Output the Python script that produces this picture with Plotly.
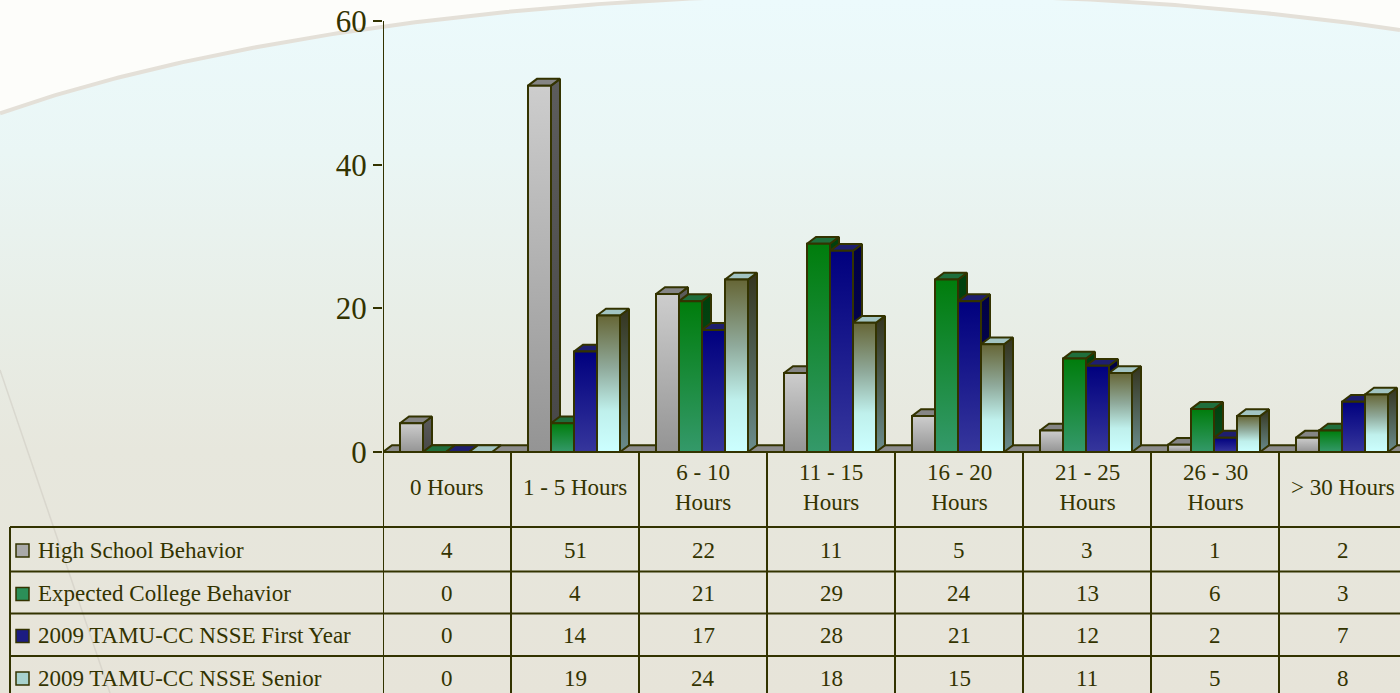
import numpy as np
import plotly.graph_objects as go

# ---------------------------------------------------------------- data
categories = ["0 Hours", "1 - 5 Hours", "6 - 10 Hours", "11 - 15 Hours",
              "16 - 20 Hours", "21 - 25 Hours", "26 - 30 Hours", "> 30 Hours"]
header_labels = ["0 Hours", "1 - 5 Hours", "6 - 10<br>Hours", "11 - 15<br>Hours",
                 "16 - 20<br>Hours", "21 - 25<br>Hours", "26 - 30<br>Hours", "> 30 Hours"]
series_names = ["High School Behavior", "Expected College Behavior",
                "2009 TAMU-CC NSSE First Year", "2009 TAMU-CC NSSE Senior"]
high_school = [4, 51, 22, 11, 5, 3, 1, 2]
expected_college = [0, 4, 21, 29, 24, 13, 6, 3]
nsse_first_year = [0, 14, 17, 28, 21, 12, 2, 7]
nsse_senior = [0, 19, 24, 18, 15, 11, 5, 8]
y_ticks = [0, 20, 40, 60]
series_values = [high_school, expected_college, nsse_first_year, nsse_senior]

# ---------------------------------------------------------------- styling
W, H = 1400, 693
FONT = "Liberation Serif, Times New Roman, serif"
INK = "#333300"
OUTLINE_W = 2

series_styles = [
    dict(front=[[0, "#949494"], [1, "#cdcdcd"]], top="#858585",
         side=[[0, "#474747"], [1, "#5c5c5c"]], swatch="#a9a9a9"),
    dict(front=[[0, "#34996a"], [1, "#007d0c"]], top="#1f6e3c",
         side=[[0, "#0d4d22"], [1, "#003f0c"]], swatch="#2b8f58"),
    dict(front=[[0, "#36369c"], [1, "#00007e"]], top="#1e1e6e",
         side=[[0, "#0a0a55"], [1, "#000045"]], swatch="#1c1c82"),
    dict(front=[[0, "#ccffff"], [0.3, "#bff0ec"], [0.62, "#8fa99a"], [1, "#666636"]],
         top="#a2c4c2", side=[[0, "#6a8c8c"], [1, "#34341e"]], swatch="#a8d2ce"),
]


def px_x(p):
    return p / W


def px_y(p):
    return 1 - p / H


# chart axes geometry (pixels)
AX_LEFT = 383
CAT_W = 128
Y0_PX, Y60_PX = 452, 21
UNIT = (Y0_PX - Y60_PX) / 60.0
PLOT_BOTTOM_PX, PLOT_TOP_PX = 462, 8

x_range = [-0.5, -0.5 + (W - AX_LEFT) / CAT_W]
y_range = [-(PLOT_BOTTOM_PX - Y0_PX) / UNIT, 60 + (Y60_PX - PLOT_TOP_PX) / UNIT]

BAR_W = 23 / CAT_W
GROUP_START = -47 / CAT_W
DX = 9 / CAT_W
DY = 6.8 / UNIT

fig = go.Figure()

# ---------------------------------------------------------------- background (full-page axes)
bx = np.linspace(0, W, 200)
arc_px = 314 - 320 * np.sqrt(np.clip(1 - ((bx - 880) / 1130) ** 2, 0, None))
arc_y = H - arc_px
poly_x = list(bx) + [W, 0]
poly_y = list(arc_y) + [-10, -10]
fig.add_trace(go.Scatter(
    x=poly_x, y=poly_y, mode="lines", fill="toself",
    line=dict(width=0),
    fillgradient=dict(type="vertical", start=0, stop=H,
                      colorscale=[[0, "#e7e4d9"], [0.35, "#e7e7dd"], [0.55, "#e8eee7"],
                                  [0.78, "#eaf6f5"], [1, "#ecfafc"]]),
    hoverinfo="skip", showlegend=False, xaxis="x", yaxis="y"))
fig.add_trace(go.Scatter(
    x=bx, y=arc_y, mode="lines", line=dict(color="#e4e0d8", width=4),
    hoverinfo="skip", showlegend=False, xaxis="x", yaxis="y"))
fig.add_trace(go.Scatter(
    x=[0, 110], y=[H - 370, H - 693], mode="lines",
    line=dict(color="rgba(200,196,186,0.45)", width=1.5),
    hoverinfo="skip", showlegend=False, xaxis="x", yaxis="y"))


# ---------------------------------------------------------------- 3-D bars on the chart axes
def poly(xs, ys, fillcolor=None, gradient=None):
    kw = dict(x=xs + [xs[0]], y=ys + [ys[0]], mode="lines", fill="toself",
              line=dict(color=INK, width=OUTLINE_W),
              hoverinfo="skip", showlegend=False, xaxis="x2", yaxis="y2")
    if gradient is not None:
        kw["fillgradient"] = dict(type="vertical", colorscale=gradient)
        kw["fillcolor"] = gradient[0][1]
    else:
        kw["fillcolor"] = fillcolor
    fig.add_trace(go.Scatter(**kw))


# floor
fx0, fx1 = x_range[0], x_range[1] + 0.2
poly([fx0, fx1, fx1 + DX, fx0 + DX], [0, 0, DY, DY], fillcolor="#8c8c8c")

for ci in range(len(categories)):
    for si, values in enumerate(series_values):
        v = values[ci]
        st = series_styles[si]
        x0 = ci + GROUP_START + si * BAR_W
        x1 = x0 + BAR_W
        if v > 0:
            # right side face
            poly([x1, x1 + DX, x1 + DX, x1], [0, DY, v + DY, v], gradient=st["side"])
        # top face
        poly([x0, x1, x1 + DX, x0 + DX], [v, v, v + DY, v + DY], fillcolor=st["top"])
        if v > 0:
            # front face
            poly([x0, x1, x1, x0], [0, 0, v, v], gradient=st["front"])

# ---------------------------------------------------------------- table lines and text
shapes = []
line_style = dict(color=INK, width=2)

# value axis line
shapes.append(dict(type="line", xref="x2", yref="y2", x0=-0.5, x1=-0.5, y0=0, y1=60,
                   line=line_style))
# top border of the category header
shapes.append(dict(type="line", xref="paper", yref="paper",
                   x0=px_x(AX_LEFT), x1=1, y0=px_y(Y0_PX), y1=px_y(Y0_PX), line=line_style))
# column separators
for i in range(len(categories) + 1):
    shapes.append(dict(type="line", xref="x2", yref="paper", x0=i - 0.5, x1=i - 0.5,
                       y0=px_y(Y0_PX), y1=px_y(H + 5), line=line_style))
# row separators
row_lines = [527, 571.5, 613.5, 656]
for ry in row_lines:
    shapes.append(dict(type="line", xref="paper", yref="paper", x0=px_x(10), x1=1,
                       y0=px_y(ry), y1=px_y(ry), line=line_style))
shapes.append(dict(type="line", xref="paper", yref="paper", x0=px_x(10), x1=px_x(10),
                   y0=px_y(527), y1=px_y(H + 5), line=line_style))

row_centers = [550, 593.5, 635.5, 678]
annotations = []
tfont = dict(family=FONT, size=23, color=INK)

for i, lab in enumerate(header_labels):
    annotations.append(dict(xref="x2", yref="paper", x=i, y=px_y(488), text=lab,
                            showarrow=False, xanchor="center", yanchor="middle",
                            font=tfont, align="center"))

for si, name in enumerate(series_names):
    cy = row_centers[si]
    shapes.append(dict(type="rect", xref="paper", yref="paper",
                       x0=px_x(16), x1=px_x(29), y0=px_y(cy + 7), y1=px_y(cy - 6),
                       fillcolor=series_styles[si]["swatch"], line=dict(color=INK, width=1.5)))
    annotations.append(dict(xref="paper", yref="paper", x=px_x(36), y=px_y(cy), text=name,
                            showarrow=False, xanchor="left", yanchor="middle", font=tfont))
    for ci, v in enumerate(series_values[si]):
        annotations.append(dict(xref="x2", yref="paper", x=ci, y=px_y(cy), text=str(v),
                                showarrow=False, xanchor="center", yanchor="middle",
                                font=tfont))

fig.update_layout(
    width=W, height=H,
    margin=dict(l=0, r=0, t=0, b=0, pad=0, autoexpand=False),
    paper_bgcolor="#fdfdfa",
    plot_bgcolor="rgba(0,0,0,0)",
    showlegend=False,
    shapes=shapes,
    annotations=annotations,
    xaxis=dict(domain=[0, 1], range=[0, W], visible=False, fixedrange=True,
               automargin=False),
    yaxis=dict(domain=[0, 1], range=[0, H], visible=False, fixedrange=True,
               automargin=False),
    xaxis2=dict(domain=[px_x(AX_LEFT), 1], range=x_range, anchor="y2",
                showgrid=False, zeroline=False, showline=False, showticklabels=False,
                ticks="", fixedrange=True, automargin=False),
    yaxis2=dict(domain=[px_y(PLOT_BOTTOM_PX), px_y(PLOT_TOP_PX)], range=y_range,
                anchor="x2", tickvals=y_ticks, ticks="outside", ticklen=9, tickwidth=2,
                tickcolor=INK, tickfont=dict(family=FONT, size=31, color=INK),
                showgrid=False, zeroline=False, showline=False, fixedrange=True,
                automargin=False),
)

fig.write_html("out.html")
